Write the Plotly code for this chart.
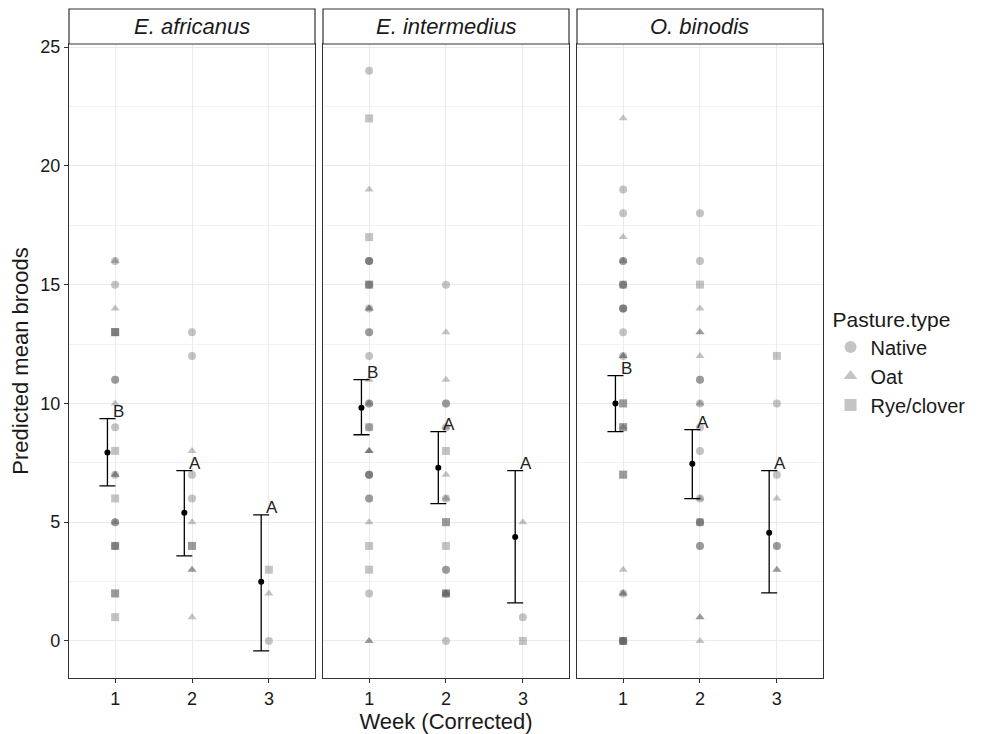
import plotly.graph_objects as go
from plotly.subplots import make_subplots

species = ["E. africanus", "E. intermedius", "O. binodis"]
pastures = ["Native", "Oat", "Rye/clover"]
weeks = [1, 2, 3]
letters = ["B", "A", "A"]

# Observed broods (week, value) per species and pasture type
afr_native_week = [1]*9 + [2]*4 + [3]
afr_native_val = [16, 15, 11, 11, 9, 7, 5, 5, 4, 13, 12, 7, 6, 0]
afr_oat_week = [1]*6 + [2]*5 + [3]
afr_oat_val = [16, 14, 10, 7, 7, 5, 8, 5, 3, 3, 1, 2]
afr_rye_week = [1]*10 + [2]*2 + [3]
afr_rye_val = [13, 13, 13, 8, 6, 4, 4, 2, 2, 1, 4, 4, 3]

int_native_week = [1]*18 + [2]*9 + [3]
int_native_val = [24, 16, 16, 16, 15, 14, 13, 13, 12, 10, 10, 9, 7, 7, 7, 6, 6, 2,
                  15, 10, 10, 9, 6, 3, 3, 2, 0, 1]
int_oat_week = [1]*11 + [2]*6 + [3]
int_oat_val = [19, 14, 14, 11, 10, 8, 8, 8, 5, 0, 0, 13, 11, 9, 7, 6, 2, 5]
int_rye_week = [1]*7 + [2]*6 + [3]
int_rye_val = [22, 17, 15, 15, 9, 4, 3, 8, 5, 5, 4, 2, 2, 0]

bin_native_week = [1]*14 + [2]*12 + [3]*4
bin_native_val = [19, 18, 16, 16, 15, 15, 14, 14, 14, 13, 12, 2, 0, 0,
                  18, 16, 11, 11, 10, 9, 8, 6, 5, 5, 4, 4, 10, 7, 4, 4]
bin_oat_week = [1]*9 + [2]*9 + [3]*3
bin_oat_val = [22, 17, 16, 12, 12, 9, 3, 2, 2, 14, 13, 13, 12, 10, 6, 1, 1, 0, 6, 3, 3]
bin_rye_week = [1]*9 + [2]*2 + [3]
bin_rye_val = [15, 10, 10, 9, 9, 7, 7, 0, 0, 15, 5, 12]

# Predicted means with confidence limits
afr_mean = [7.93, 5.40, 2.49]
afr_lower = [6.53, 3.58, -0.42]
afr_upper = [9.36, 7.17, 5.31]
int_mean = [9.82, 7.29, 4.38]
int_lower = [8.68, 5.78, 1.60]
int_upper = [11.0, 8.81, 7.17]
bin_mean = [10.0, 7.46, 4.55]
bin_lower = [8.81, 5.99, 2.02]
bin_upper = [11.17, 8.90, 7.17]

obs = [
    [(afr_native_week, afr_native_val), (afr_oat_week, afr_oat_val), (afr_rye_week, afr_rye_val)],
    [(int_native_week, int_native_val), (int_oat_week, int_oat_val), (int_rye_week, int_rye_val)],
    [(bin_native_week, bin_native_val), (bin_oat_week, bin_oat_val), (bin_rye_week, bin_rye_val)],
]
means = [(afr_mean, afr_lower, afr_upper), (int_mean, int_lower, int_upper), (bin_mean, bin_lower, bin_upper)]

symbols = ["circle", "triangle-up", "square"]
pt_color = "rgba(60,60,60,0.30)"
FONT = "Liberation Sans, Arial, sans-serif"
TXT = "#1a1a1a"

fig = make_subplots(rows=1, cols=3, shared_yaxes=True, horizontal_spacing=0.0106)

STRIP_H = 35 / 634

for i, sp in enumerate(species):
    for j, p in enumerate(pastures):
        wk, vals = obs[i][j]
        fig.add_trace(go.Scatter(
            x=wk, y=vals, mode="markers", name=p,
            showlegend=(i == 0),
            marker=dict(symbol=symbols[j], size=8, color=pt_color, line=dict(width=0)),
        ), row=1, col=i + 1)
    m, lo, hi = means[i]
    fig.add_trace(go.Scatter(
        x=[w - 0.1 for w in weeks], y=m, mode="markers", showlegend=False,
        marker=dict(symbol="circle", size=6, color="black"),
        error_y=dict(type="data", symmetric=False,
                     array=[h - a for h, a in zip(hi, m)],
                     arrayminus=[a - l for a, l in zip(m, lo)],
                     color="black", thickness=1.3, width=8),
    ), row=1, col=i + 1)
    xref = "x" if i == 0 else f"x{i+1}"
    yref = "y" if i == 0 else f"y{i+1}"
    for w, h, lt in zip(weeks, hi, letters):
        fig.add_annotation(x=w + 0.04, y=h + 0.3, xref=xref, yref=yref, text=lt,
                           showarrow=False, font=dict(size=17, color="#222", family=FONT),
                           yanchor="middle", xanchor="center")
    # strip
    fig.add_shape(type="rect", xref=f"{xref} domain", yref="paper",
                  x0=0, x1=1, y0=1.0, y1=1.0 + STRIP_H, line=dict(color="#333", width=1.2),
                  fillcolor="white", layer="above")
    fig.add_annotation(x=0.5, y=1.0 + STRIP_H / 2, xref=f"{xref} domain", yref="paper",
                       text=f"<i>{sp}</i>", showarrow=False,
                       font=dict(size=22, color=TXT, family=FONT),
                       xanchor="center", yanchor="middle")

for i in range(3):
    fig.update_xaxes(row=1, col=i + 1, range=[0.4, 3.6], tickvals=weeks,
                     ticktext=[str(w) for w in weeks],
                     showgrid=True, gridcolor="#ebebeb", gridwidth=1,
                     zeroline=False, showline=True, mirror=True,
                     linecolor="#333", linewidth=1.2,
                     ticks="outside", ticklen=4, tickcolor="#333",
                     tickfont=dict(size=18, color=TXT, family=FONT))
    fig.update_yaxes(row=1, col=i + 1, range=[-1.56, 25.13], tickvals=[0, 5, 10, 15, 20, 25],
                     showgrid=True, gridcolor="#ebebeb", gridwidth=1,
                     minor=dict(tickvals=[2.5, 7.5, 12.5, 17.5, 22.5], showgrid=True,
                                gridcolor="#f2f2f2", gridwidth=1),
                     zeroline=False, showline=True, mirror=True,
                     linecolor="#333", linewidth=1.2, automargin=False,
                     ticks="outside" if i == 0 else "", ticklen=4, tickcolor="#333",
                     tickfont=dict(size=18, color=TXT, family=FONT))

fig.update_xaxes(row=1, col=2, automargin=False,
                 title=dict(text="Week (Corrected)", font=dict(size=22, color=TXT, family=FONT), standoff=3))
fig.update_yaxes(row=1, col=1,
                 title=dict(text="Predicted mean broods", font=dict(size=22, color=TXT, family=FONT), standoff=5))

fig.update_layout(
    width=988, height=734,
    margin=dict(l=61, r=173, t=36, b=64),
    paper_bgcolor="white", plot_bgcolor="white",
    font=dict(family=FONT, color=TXT),
    legend=dict(title=dict(text="Pasture.type", font=dict(size=21, family=FONT, color=TXT)),
                font=dict(size=20, family=FONT, color=TXT),
                x=1.01, y=0.596, xanchor="left", yanchor="top", tracegroupgap=0,
                bgcolor="rgba(0,0,0,0)", itemsizing="constant"),
)

fig.write_html("out.html")
